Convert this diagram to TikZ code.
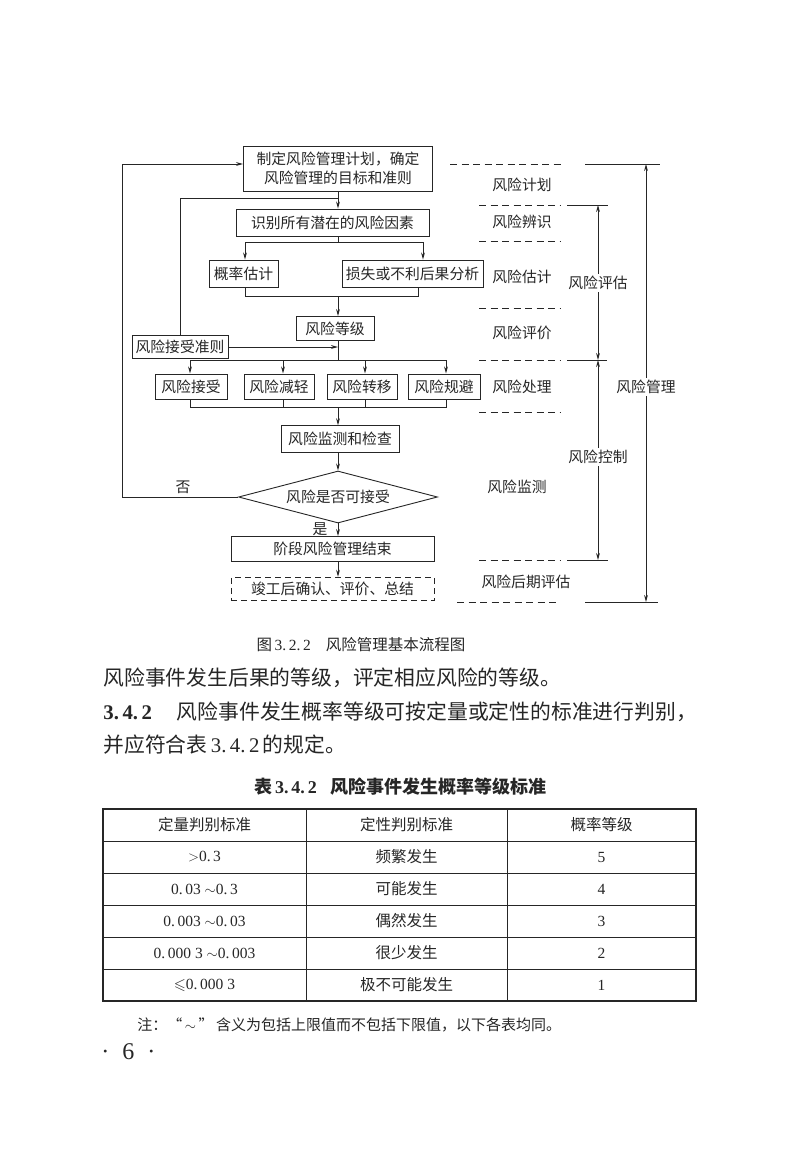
\documentclass[tikz,border=0pt]{standalone}
\usepackage{fontspec}
\usepackage{amssymb}
\setmainfont{Liberation Serif}
\newfontfamily\cjk{Noto Sans CJK SC}
\usetikzlibrary{arrows.meta,shapes.geometric,calc}
\begin{document}
\begin{tikzpicture}[x=1pt,y=-1pt,
  line width=0.9pt, color=black!85,
  box/.style={draw, rectangle, inner sep=0pt, font=\cjk\fontsize{14.8}{19}\selectfont, align=center},
  arr/.style={-{Stealth[length=7pt,width=3.8pt]}},
  lab/.style={font=\cjk\fontsize{14.8}{18}\selectfont, inner sep=2pt},
  dsh/.style={dash pattern=on 7pt off 4.5pt, line width=0.8pt},
  cell/.style={font=\cjk\fontsize{15.5}{18}\selectfont, inner sep=0pt},
  num/.style={font=\rmfamily\fontsize{15.5}{18}\selectfont, inner sep=0pt},
  body/.style={font=\cjk\fontsize{20.8}{24}\selectfont, inner sep=0pt, anchor=west},
]
\useasboundingbox[fill=white] (0,0) rectangle (800,1154);

% ---------------- flowchart boxes ----------------
\node[box, minimum width=189pt, minimum height=45pt] (plan) at (338,168.5) {制定风险管理计划，确定\\风险管理的目标和准则};
\node[box, minimum width=193pt, minimum height=27pt] (ident) at (332.5,222.5) {识别所有潜在的风险因素};
\node[box, minimum width=69pt, minimum height=27pt] (prob) at (243.5,273.5) {概率估计};
\node[box, minimum width=141pt, minimum height=27pt] (loss) at (412.5,273.5) {损失或不利后果分析};
\node[box, minimum width=78pt, minimum height=24pt] (grade) at (335,328.5) {风险等级};
\node[box, minimum width=96pt, minimum height=23pt] (crit) at (180,347) {风险接受准则};
\node[box, minimum width=72pt, minimum height=25.5pt] (acc) at (191,386.7) {风险接受};
\node[box, minimum width=70pt, minimum height=25.5pt] (mit) at (279,386.7) {风险减轻};
\node[box, minimum width=70pt, minimum height=25.5pt] (trans) at (362,386.7) {风险转移};
\node[box, minimum width=72pt, minimum height=25.5pt] (avoid) at (444,386.7) {风险规避};
\node[box, minimum width=118pt, minimum height=26.5pt] (mon) at (340,439) {风险监测和检查};
\node[box, shape=diamond, shape aspect=3.8, minimum width=199pt, minimum height=52pt] (dia) at (338,497) {风险是否可接受};
\node[box, minimum width=203pt, minimum height=25pt] (fin) at (332.5,549) {阶段风险管理结束};
\node[box, dash pattern=on 6pt off 4pt, minimum width=203pt, minimum height=23.5pt] (post) at (332.5,589) {竣工后确认、评价、总结};
\node[lab] (no) at (183,487) {否};
\node[lab] (yes) at (320,529) {是};

% ---------------- flowchart connectors ----------------
\coordinate (ax) at (338,0);
\coordinate (j1) at (338,198);
\draw[arr] (ax |- plan.south) -- (ax |- ident.north);
\draw (crit.north) |- (j1);
\coordinate (s1) at (338,242);
\coordinate (pl) at (245,242);
\coordinate (pr) at (423,242);
\draw (ax |- ident.south) -- (s1);
\draw (pl) -- (pr);
\draw[arr] (pl) -- (pl |- prob.north);
\draw[arr] (pr) -- (pr |- loss.north);
\coordinate (ql) at (245,296);
\coordinate (qr) at (418,296);
\draw (ql |- prob.south) -- (ql) -- (qr) -- (qr |- loss.south);
\draw[arr] (ax |- ql) -- (ax |- grade.north);
\draw[arr] (crit.east) -- (ax |- crit.east);
\coordinate (rl) at (190,360);
\coordinate (r2) at (283,360);
\coordinate (r3) at (365,360);
\coordinate (rr) at (446,360);
\draw (ax |- grade.south) -- (ax |- rl);
\draw (rl) -- (rr);
\draw[arr] (rl) -- (rl |- acc.north);
\draw[arr] (r2) -- (r2 |- mit.north);
\draw[arr] (r3) -- (r3 |- trans.north);
\draw[arr] (rr) -- (rr |- avoid.north);
\coordinate (bl) at (190,407);
\coordinate (br) at (446,407);
\draw (rl |- acc.south) -- (bl) -- (br) -- (rr |- avoid.south);
\draw (r2 |- mit.south) -- (r2 |- bl);
\draw (r3 |- trans.south) -- (r3 |- bl);
\draw[arr] (ax |- bl) -- (ax |- mon.north);
\draw[arr] (ax |- mon.south) -- (dia.north);
\draw[arr] (dia.south) -- (dia.south |- fin.north);
\draw[arr] (ax |- fin.south) -- (ax |- post.north);
\coordinate (fb) at (122,164);
\draw[arr] (dia.west) -| (fb) -- (fb -| plan.west);

% ---------------- right-hand stages ----------------
\draw[dsh] (450,164) -- (565,164);  \draw (585,164) -- (660,164);
\draw[dsh] (479,205) -- (560,205);  \draw (567,205) -- (608,205);
\draw[dsh] (479,241) -- (560,241);
\draw[dsh] (479,308) -- (560,308);
\draw[dsh] (479,360) -- (560,360);  \draw (567,360) -- (607,360);
\draw[dsh] (479,412) -- (560,412);
\draw[dsh] (479,560) -- (560,560);  \draw (567,560) -- (608,560);
\draw[dsh] (457,602) -- (560,602);  \draw (585,602) -- (658,602);

\node[lab] (s-plan) at (522,185) {风险计划};
\node[lab] (s-iden) at (522,222) {风险辨识};
\node[lab] (s-est) at (522,277) {风险估计};
\node[lab] (s-eva) at (522,333) {风险评价};
\node[lab] (s-tre) at (522,387) {风险处理};
\node[lab] (s-mon) at (517,487) {风险监测};
\node[lab] (s-post) at (526,582) {风险后期评估};

\node[lab] (assess) at (598,283) {风险评估};
\coordinate (aT) at (598,205);
\coordinate (aB) at (598,360);
\draw[arr] (assess.north) -- (aT);
\draw[arr] (assess.south) -- (aB);
\node[lab] (ctrl) at (598,457) {风险控制};
\coordinate (cT) at (598,360);
\coordinate (cB) at (598,560);
\draw[arr] (ctrl.north) -- (cT);
\draw[arr] (ctrl.south) -- (cB);
\node[lab] (mgmt) at (646,387) {风险管理};
\coordinate (mT) at (646,164);
\coordinate (mB) at (646,602);
\draw[arr] (mgmt.north) -- (mT);
\draw[arr] (mgmt.south) -- (mB);

% ---------------- caption and body text ----------------
\node[font=\cjk\fontsize{15.5}{18}\selectfont, inner sep=0pt] (cap) at (361,645) {图\,{\rmfamily 3.\,2.\,2}\hspace{15pt}风险管理基本流程图};
\node[body] (l1) at (103,678) {风险事件发生后果的等级，评定相应风险的等级。};
\node[body] (l2) at (103,712) {{\rmfamily\bfseries 3.\,4.\,2}\hspace{25pt}风险事件发生概率等级可按定量或定性的标准进行判别，};
\node[body] (l3) at (103,745) {并应符合表\,{\rmfamily 3.\,4.\,2}\,的规定。};
\node[font=\cjk\bfseries\fontsize{18}{21}\selectfont, inner sep=0pt] (tcap) at (400,787) {表\,{\rmfamily\bfseries 3.\,4.\,2}\hspace{13pt}风险事件发生概率等级标准};

% ---------------- table ----------------
\draw[line width=1.6pt] (103,809) rectangle (696,1001);
\foreach \y in {841,873,905,937,969} \draw[line width=0.8pt] (103,\y) -- (696,\y);
\draw[line width=0.8pt] (306,809) -- (306,1001);
\draw[line width=0.8pt] (507,809) -- (507,1001);

\node[cell] (h1) at (204.5,825) {定量判别标准};
\node[cell] (h2) at (406.5,825) {定性判别标准};
\node[cell] (h3) at (601.5,825) {概率等级};

\node[num] (a1) at (204.5,857) {$>$0.\,3};
\node[num] (a2) at (204.5,889) {0.\,03 $\sim$0.\,3};
\node[num] (a3) at (204.5,921) {0.\,003 $\sim$0.\,03};
\node[num] (a4) at (204.5,953) {0.\,000 3 $\sim$0.\,003};
\node[num] (a5) at (204.5,985) {$\leqslant$0.\,000 3};

\node[cell] (b1) at (406.5,857) {频繁发生};
\node[cell] (b2) at (406.5,889) {可能发生};
\node[cell] (b3) at (406.5,921) {偶然发生};
\node[cell] (b4) at (406.5,953) {很少发生};
\node[cell] (b5) at (406.5,985) {极不可能发生};

\node[num] (c1) at (601.5,857) {5};
\node[num] (c2) at (601.5,889) {4};
\node[num] (c3) at (601.5,921) {3};
\node[num] (c4) at (601.5,953) {2};
\node[num] (c5) at (601.5,985) {1};

\node[font=\cjk\fontsize{15}{18}\selectfont, inner sep=0pt, anchor=west] (note) at (137,1025) {注：“\,{\rmfamily $\sim$}\,”\,含义为包括上限值而不包括下限值，以下各表均同。};
\node[font=\rmfamily\fontsize{24}{26}\selectfont, inner sep=0pt, anchor=west] (page) at (101,1052) {·\hspace{13pt}6\hspace{13pt}·};
\end{tikzpicture}
\end{document}
